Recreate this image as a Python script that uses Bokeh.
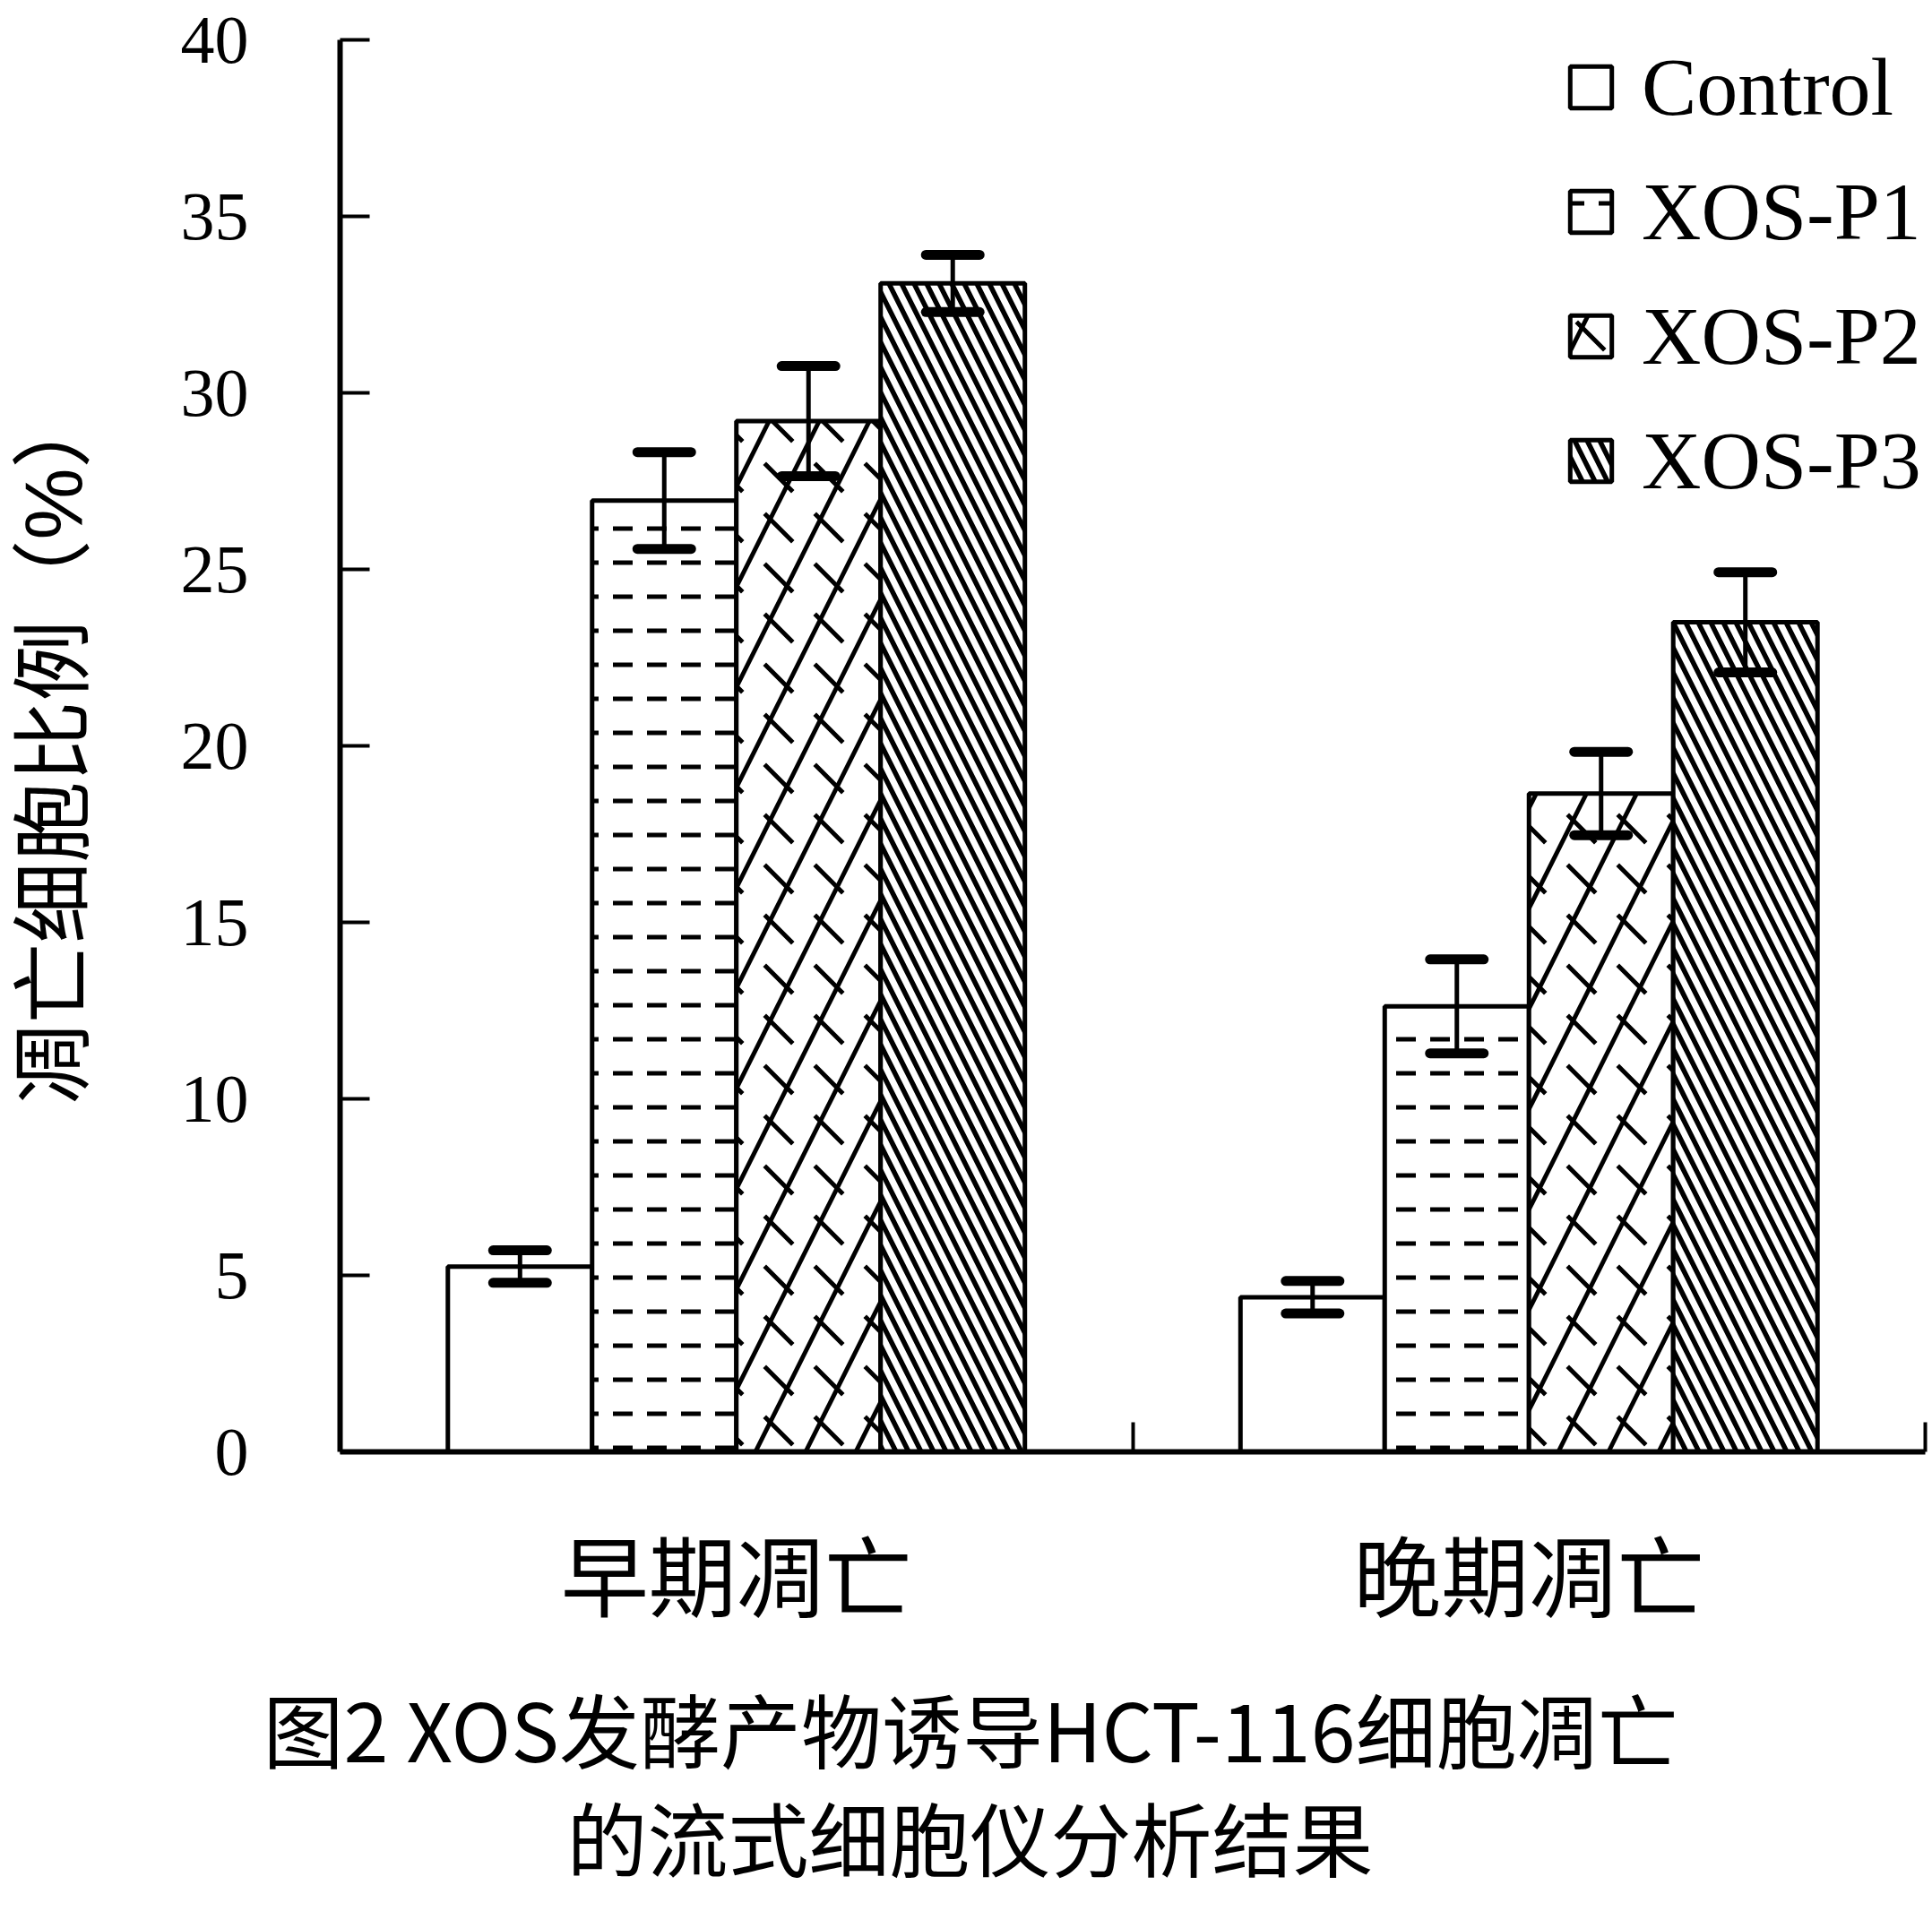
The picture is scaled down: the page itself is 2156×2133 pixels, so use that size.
from bokeh.plotting import figure
from bokeh.models import (Range1d, FixedTicker, Legend, LegendItem, Whisker,
                          TeeHead, ColumnDataSource, Title)
from bokeh.embed import file_html
from bokeh.resources import INLINE

# ---------------- data ----------------
categories = ["早期凋亡", "晚期凋亡"]
series = ["Control", "XOS-P1", "XOS-P2", "XOS-P3"]
control = [5.25, 4.38]
xos_p1 = [26.95, 12.62]
xos_p2 = [29.2, 18.65]
xos_p3 = [33.1, 23.5]
control_err = [0.46, 0.46]
xos_p1_err = [1.37, 1.33]
xos_p2_err = [1.56, 1.18]
xos_p3_err = [0.81, 1.42]
y_ticks = [0, 5, 10, 15, 20, 25, 30, 35, 40]
y_label = "凋亡细胞比例（%）"
caption_1 = "图2 XOS发酵产物诱导HCT-116细胞凋亡"
caption_2 = "的流式细胞仪分析结果"

values = [control, xos_p1, xos_p2, xos_p3]
errors = [control_err, xos_p1_err, xos_p2_err, xos_p3_err]

SERIF = "Liberation Serif"
CJK = "Noto Sans CJK SC"

bar_w = 0.182
offsets = [(-1.5 + k) * bar_w for k in range(len(series))]
centers = [i + 0.5 for i in range(len(categories))]

p = figure(width=2156, height=2133, output_backend="svg",
           toolbar_location=None, x_range=Range1d(0, len(categories)),
           y_range=Range1d(0, 40), min_border_left=379, min_border_right=8,
           min_border_top=44, min_border_bottom=513)
p.background_fill_color = "white"
p.border_fill_color = "white"
p.outline_line_color = None
p.xgrid.visible = False
p.ygrid.visible = False

# each series: list of hatch layers (first layer carries fill + outline)
hatch_specs = [
    [dict(hatch_pattern=" ")],
    [dict(hatch_pattern="horizontal_dash", hatch_scale=38, hatch_weight=5)],
    [dict(hatch_pattern="right_diagonal_line", hatch_scale=112, hatch_weight=5),
     dict(hatch_pattern="left_diagonal_dash", hatch_scale=56, hatch_weight=5)],
    [dict(hatch_pattern="left_diagonal_line", hatch_scale=28, hatch_weight=5.5)],
]

legend_items = []
for k, name in enumerate(series):
    src = ColumnDataSource(dict(
        x=[c + offsets[k] for c in centers],
        top=values[k],
        lower=[v - e for v, e in zip(values[k], errors[k])],
        upper=[v + e for v, e in zip(values[k], errors[k])],
    ))
    rends = []
    for j, hs in enumerate(hatch_specs[k]):
        r = p.vbar(x="x", top="top", bottom=0, width=bar_w, source=src,
                   fill_color="white" if j == 0 else None,
                   line_color="black" if j == 0 else None, line_width=5,
                   hatch_color="black", **hs)
        rends.append(r)
    legend_items.append(LegendItem(label=name, renderers=rends))
    w = Whisker(base="x", lower="lower", upper="upper", source=src,
                line_color="black", line_width=5, level="overlay",
                upper_head=TeeHead(size=60, line_width=11, line_color="black", line_cap="round"),
                lower_head=TeeHead(size=60, line_width=11, line_color="black", line_cap="round"))
    p.add_layout(w)

# y axis
yax = p.yaxis[0]
yax.ticker = FixedTicker(ticks=y_ticks)
yax.axis_line_width = 6
yax.major_tick_line_width = 4
yax.major_tick_in = 33
yax.major_tick_out = 0
yax.minor_tick_line_color = None
yax.major_label_text_font = SERIF
yax.major_label_text_font_size = "76px"
yax.major_label_text_color = "black"
yax.major_label_text_line_height = 1.0
yax.major_label_standoff = 102
yax.axis_label = y_label
yax.axis_label_text_font = "Liberation Sans, Noto Sans CJK SC"
yax.axis_label_text_font_size = "90px"
yax.axis_label_text_font_style = "normal"
yax.axis_label_text_color = "black"
yax.axis_label_text_line_height = 1.0
yax.axis_label_standoff = 89

# x axis
xax = p.xaxis[0]
xax.ticker = FixedTicker(ticks=centers, minor_ticks=[i + 1 for i in range(len(categories))])
xax.major_label_overrides = {c: lab for c, lab in zip(centers, categories)}
xax.axis_line_width = 6
xax.major_tick_line_color = None
xax.major_tick_in = 0
xax.major_tick_out = 0
xax.minor_tick_line_width = 4
xax.minor_tick_in = 33
xax.minor_tick_out = 0
xax.major_label_text_font = CJK
xax.major_label_text_font_size = "98px"
xax.major_label_text_color = "black"
xax.major_label_standoff = 62

legend = Legend(items=legend_items, location=(1367, 1053), margin=0, padding=0,
                glyph_width=58, glyph_height=58, label_standoff=28, spacing=33,
                label_text_font=SERIF, label_text_font_size="92px",
                label_text_line_height=1.0, label_text_color="black",
                background_fill_alpha=0, border_line_color=None)
p.add_layout(legend, "center")

# figure caption: two lines, both centred on the same vertical axis
t1 = Title(text=caption_1, align="left", offset=-86, text_font=CJK,
           text_font_size="90px", text_font_style="normal", text_color="black",
           standoff=66)
t2 = Title(text=caption_2, align="left", offset=253, text_font=CJK,
           text_font_size="90px", text_font_style="normal", text_color="black",
           standoff=-88)
p.add_layout(t1, "below")
p.add_layout(t2, "below")

open("out.html", "w").write(file_html(p, INLINE))
